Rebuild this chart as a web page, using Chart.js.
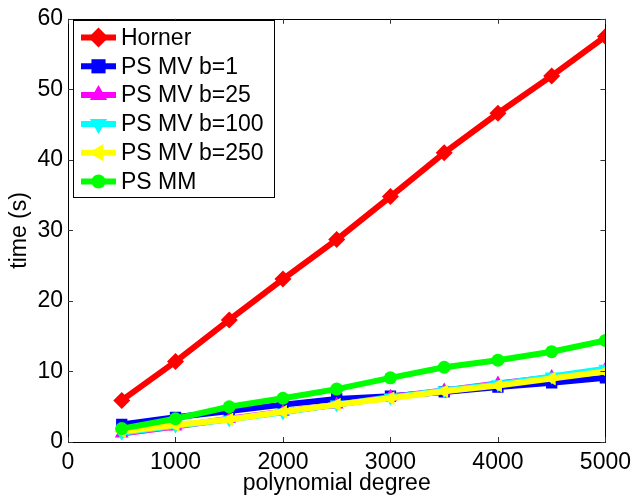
<!DOCTYPE html>
<html>
<head>
<meta charset="utf-8">
<script src="https://cdn.jsdelivr.net/npm/chart.js@4/dist/chart.umd.min.js"></script>
<style>
  html, body { margin: 0; padding: 0; background: #fff; }
  #wrap { width: 638px; height: 497px; position: relative; }
</style>
</head>
<body>
<div id="wrap"><canvas id="c"></canvas></div>
<script>
// ── data ──
const degrees   = [500, 1000, 1500, 2000, 2500, 3000, 3500, 4000, 4500, 5000];
const horner    = [5.9, 11.4, 17.3, 23.1, 28.7, 34.8, 41.0, 46.6, 51.9, 57.5];
const psMvB1    = [2.5, 3.5, 4.4, 5.3, 6.1, 6.5, 7.1, 7.8, 8.4, 9.1];
const psMvB25   = [1.2, 2.2, 3.3, 4.3, 5.3, 6.4, 7.3, 8.3, 9.2, 10.3];
const psMvB100  = [1.3, 2.3, 3.2, 4.2, 5.3, 6.3, 7.3, 8.2, 9.3, 10.4];
const psMvB250  = [1.5, 2.4, 3.2, 4.3, 5.3, 6.2, 7.2, 8.0, 9.0, 10.0];
const psMM      = [1.9, 3.3, 5.0, 6.2, 7.5, 9.1, 10.6, 11.6, 12.8, 14.4];
const xTicks    = [0, 1000, 2000, 3000, 4000, 5000];
const yTicks    = [0, 10, 20, 30, 40, 50, 60];

const FONT = 'Liberation Sans, Arial, Helvetica, sans-serif';
const FS = 23;

const series = [
  { label: 'Horner',        data: horner,   color: '#FF0000', style: 'rectRot',  rot: 0,   r: 8.5 },
  { label: 'PS MV b=1',     data: psMvB1,   color: '#0000FF', style: 'rect',     rot: 0,   r: 8 },
  { label: 'PS MV b=25',    data: psMvB25,  color: '#FF00FF', style: 'triangle', rot: 0,   r: 8 },
  { label: 'PS MV b=100',   data: psMvB100, color: '#00FFFF', style: 'triangle', rot: 180, r: 8 },
  { label: 'PS MV b=250',   data: psMvB250, color: '#FFFF00', style: 'triangle', rot: 270, r: 8 },
  { label: 'PS MM',         data: psMM,     color: '#00FF00', style: 'circle',   rot: 0,   r: 6.5 },
];

const datasets = series.map((s, i) => ({
  label: s.label,
  data: s.data.map((v, k) => ({ x: degrees[k], y: v })),
  borderColor: s.color,
  backgroundColor: s.color,
  borderWidth: 6,
  pointStyle: s.style,
  pointRotation: s.rot,
  pointRadius: s.r,
  pointBorderWidth: 0,
  pointBackgroundColor: s.color,
  tension: 0,
  order: series.length - i,   // later series on top, like the original
}));

// frame + inward ticks on all four sides (MATLAB look)
const framePlugin = {
  id: 'frame',
  afterDatasetsDraw(chart) {
    const { ctx, chartArea: a, scales } = chart;
    ctx.save();
    ctx.strokeStyle = '#000';
    ctx.lineWidth = 1;
    ctx.strokeRect(Math.round(a.left) + 0.5, Math.round(a.top) + 0.5,
                   Math.round(a.right - a.left), Math.round(a.bottom - a.top));
    ctx.strokeStyle = '#333';
    const tl = 5;
    ctx.beginPath();
    xTicks.forEach(v => {
      const x = Math.round(scales.x.getPixelForValue(v)) + 0.5;
      ctx.moveTo(x, a.bottom); ctx.lineTo(x, a.bottom - tl);
      ctx.moveTo(x, a.top);    ctx.lineTo(x, a.top + tl);
    });
    yTicks.forEach(v => {
      const y = Math.round(scales.y.getPixelForValue(v)) + 0.5;
      ctx.moveTo(a.left, y);  ctx.lineTo(a.left + tl, y);
      ctx.moveTo(a.right, y); ctx.lineTo(a.right - tl, y);
    });
    ctx.stroke();
    ctx.restore();
  }
};

// legend box in the top-left corner, line sample + marker
const legendPlugin = {
  id: 'boxLegend',
  afterDraw(chart) {
    const ctx = chart.ctx;
    const bx = 73.5, by = 20.5, bw = 201, bh = 177;
    ctx.save();
    ctx.fillStyle = '#fff';
    ctx.fillRect(bx, by, bw, bh);
    ctx.strokeStyle = '#000';
    ctx.lineWidth = 1;
    ctx.strokeRect(bx, by, bw, bh);
    ctx.font = FS + 'px ' + FONT;
    ctx.textBaseline = 'middle';
    series.forEach((s, i) => {
      const y = 37.5 + i * 28.8;
      ctx.strokeStyle = s.color;
      ctx.lineWidth = 6;
      ctx.beginPath();
      ctx.moveTo(81, y); ctx.lineTo(116, y);
      ctx.stroke();
      ctx.fillStyle = s.color;
      if (Chart.helpers && Chart.helpers.drawPoint) {
        Chart.helpers.drawPoint(ctx, {
          pointStyle: s.style, rotation: s.rot, radius: s.style === 'circle' ? 7 : 10, borderWidth: 0
        }, 98.5, y);
      }
      ctx.fillStyle = '#000';
      ctx.fillText(s.label, 121, y + 1);
    });
    ctx.restore();
  }
};

new Chart(document.getElementById('c'), {
  type: 'line',
  data: { datasets },
  plugins: [framePlugin, legendPlugin],
  options: {
    responsive: true,
    maintainAspectRatio: false,
    animation: false,
    layout: { padding: { top: 15, right: 29, left: 0, bottom: 0 } },
    plugins: { legend: { display: false }, tooltip: { enabled: false } },
    scales: {
      x: {
        type: 'linear', min: 0, max: 5000,
        afterBuildTicks: s => { s.ticks = xTicks.map(v => ({ value: v })); },
        afterFit: s => { s.height = 55; },
        grid: { display: false, drawTicks: false },
        border: { display: false },
        ticks: { color: '#000', font: { family: FONT, size: FS }, padding: 7, maxRotation: 0,
                 callback: v => String(v) },
        title: { display: true, text: 'polynomial degree', color: '#000',
                 font: { family: FONT, size: FS }, padding: { top: -4, bottom: 0 } },
      },
      y: {
        min: 0, max: 60,
        afterBuildTicks: s => { s.ticks = yTicks.map(v => ({ value: v })); },
        afterFit: s => { s.width = 68; },
        grid: { display: false, drawTicks: false },
        border: { display: false },
        ticks: { color: '#000', font: { family: FONT, size: FS }, padding: 5,
                 callback: v => String(v) },
        title: { display: true, text: 'time (s)', color: '#000',
                 font: { family: FONT, size: FS }, padding: { top: 6, bottom: 0 } },
      },
    },
  },
});
</script>
</body>
</html>
